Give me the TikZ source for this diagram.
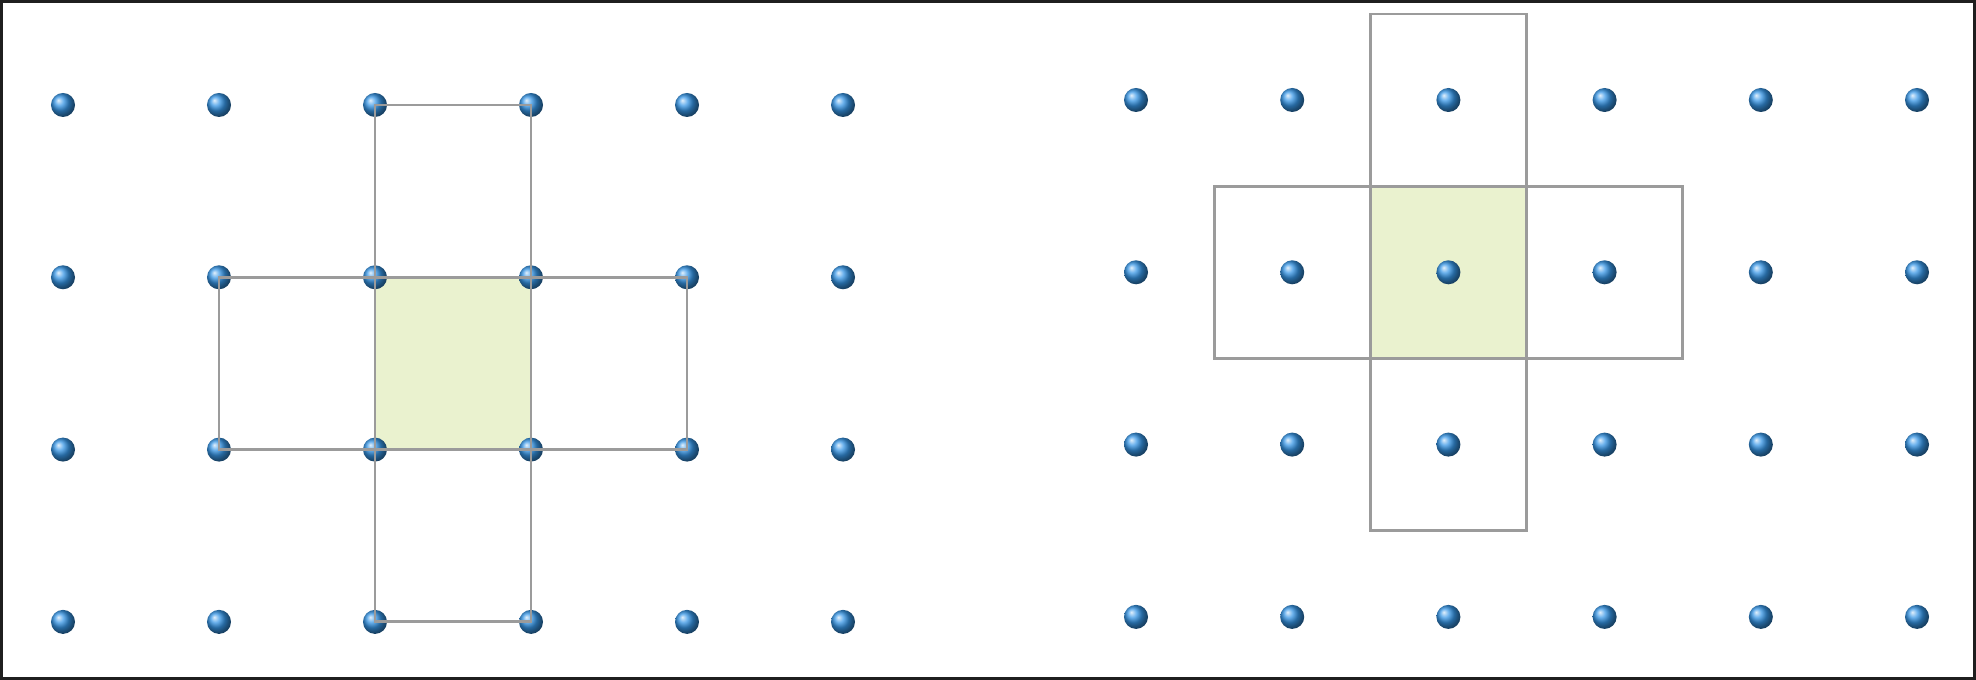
\documentclass[tikz,border=0pt]{standalone}
\usetikzlibrary{backgrounds}
\definecolor{dotblue}{RGB}{55,150,230}
\definecolor{cellgreen}{RGB}{234,242,207}
\definecolor{linegray}{RGB}{155,155,155}
\tikzset{
	latticedot/.style={circle,inner sep=0pt,minimum size=0.24cm,shade,ball color=dotblue},
	cellline/.style={draw=linegray,line width=0.8pt},
	cellbox/.style={cellline,rectangle,inner sep=0pt,minimum width=1.56cm,minimum height=1.72cm},
}
\begin{document}
\begin{tikzpicture}[x=0.01cm,y=-0.01cm]
	\useasboundingbox (0,0) rectangle (1976,680);
	\draw[line width=0.03cm,black!88] (1.5,1.5) rectangle (1974.5,678.5);
	% lattice points
	\foreach \i in {1,...,6}
	\foreach \j in {1,...,4}{
		\node[latticedot] (L-\i-\j) at ({63+156*(\i-1)},{105+172.3*(\j-1)}) {};
		\node[latticedot] (R-\i-\j) at ({1136+156.2*(\i-1)},{100+172.3*(\j-1)}) {};
	}
	\begin{scope}[on background layer]
		\fill[cellgreen] (L-3-2.center) rectangle (L-4-3.center);
		\node[cellbox,fill=cellgreen] (R-mid) at (R-3-2) {};
		\node[cellbox] (R-top) at (R-3-1) {};
		\node[cellbox] (R-bot) at (R-3-3) {};
		\node[cellbox] (R-lft) at (R-2-2) {};
		\node[cellbox] (R-rgt) at (R-4-2) {};
	\end{scope}
	% left cross
	\draw[cellline] (L-3-1.center) rectangle (L-4-2.center);
	\draw[cellline] (L-3-2.center) rectangle (L-4-3.center);
	\draw[cellline] (L-3-3.center) rectangle (L-4-4.center);
	\draw[cellline] (L-2-2.center) rectangle (L-3-3.center);
	\draw[cellline] (L-4-2.center) rectangle (L-5-3.center);
\end{tikzpicture}
\end{document}
